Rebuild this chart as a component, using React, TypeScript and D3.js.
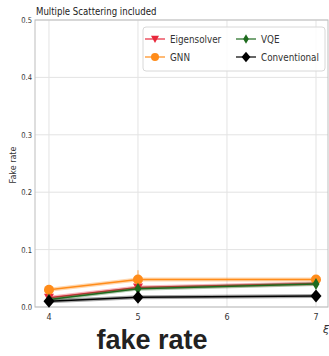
import React from "react";
import * as d3 from "d3";

const xs = [4, 5, 7];
const eigensolver = [0.016, 0.034, 0.041];
const gnn = [0.03, 0.048, 0.048];
const vqe = [0.013, 0.032, 0.04];
const conventional = [0.01, 0.017, 0.019];
const gnnErr = [0.004, 0.016, 0.004];
const xTicks = [4, 5, 6, 7];
const yTicks = [0, 0.1, 0.2, 0.3, 0.4, 0.5];

const series = [
  { name: "Eigensolver", values: eigensolver, color: "#e8283c", marker: "tri" },
  { name: "GNN", values: gnn, color: "#ff8c1a", marker: "circle" },
  { name: "VQE", values: vqe, color: "#1e6b1e", marker: "diamond" },
  { name: "Conventional", values: conventional, color: "#000000", marker: "diamondBig" },
];

const L = 35, R = 328, T = 20, B = 307;
const x = d3.scaleLinear().domain([3.843, 7.135]).range([L, R]);
const y = d3.scaleLinear().domain([0, 0.5]).range([B, T]);

function Marker({ kind, cx, cy, color, s = 1 }: { kind: string; cx: number; cy: number; color: string; s?: number }) {
  if (kind === "circle") return <circle cx={cx} cy={cy} r={5 * s} fill={color} />;
  if (kind === "tri")
    return <path d={`M${cx - 5 * s},${cy - 4 * s} L${cx + 5 * s},${cy - 4 * s} L${cx},${cy + 5 * s} Z`} fill={color} />;
  if (kind === "diamond")
    return <path d={`M${cx},${cy - 6 * s} L${cx + 3.5 * s},${cy} L${cx},${cy + 6 * s} L${cx - 3.5 * s},${cy} Z`} fill={color} />;
  return <path d={`M${cx},${cy - 6.5 * s} L${cx + 5.5 * s},${cy} L${cx},${cy + 6.5 * s} L${cx - 5.5 * s},${cy} Z`} fill={color} />;
}

export default function App() {
  const line = d3
    .line<number>()
    .x((_, i) => x(xs[i]))
    .y((d) => y(d));
  const font = "DejaVu Sans, sans-serif";
  return (
    <svg width={329} height={356} style={{ position: "absolute", left: 0, top: 0, background: "#fff" }}>
      <rect x={0} y={0} width={329} height={356} fill="#fff" />
      {xTicks.map((t) => (
        <line key={"gx" + t} x1={x(t)} x2={x(t)} y1={T} y2={B} stroke="#e3e3e3" strokeWidth={1} />
      ))}
      {yTicks.map((t) => (
        <line key={"gy" + t} x1={L} x2={R} y1={y(t)} y2={y(t)} stroke="#e3e3e3" strokeWidth={1} />
      ))}
      <rect x={L} y={T} width={R - L} height={B - T} fill="none" stroke="#bdbdbd" strokeWidth={1} />
      {yTicks.map((t) => (
        <text key={"ty" + t} x={L - 3} y={y(t) + 3} fontSize={8} fontFamily={font} textAnchor="end" fill="#333"
          transform={`translate(${L - 3},0) scale(0.85,1) translate(${-(L - 3)},0)`}>
          {t.toFixed(1)}
        </text>
      ))}
      {xTicks.map((t) => (
        <text key={"tx" + t} x={x(t)} y={B + 13} fontSize={8} fontFamily={font} textAnchor="middle" fill="#333">
          {t}
        </text>
      ))}
      <text x={326} y={333} fontSize={11} fontStyle="italic" fontFamily={font} textAnchor="middle" fill="#333">ξ</text>
      <text transform={`translate(16,165) rotate(-90)`} fontSize={8} fontFamily={font} textAnchor="middle" fill="#333">
        Fake rate
      </text>
      <text x={36} y={15} fontSize={10} fontFamily={font} fill="#222"
        transform="translate(36,0) scale(0.86,1) translate(-36,0)">
        Multiple Scattering included
      </text>
      {gnnErr.map((e, i) => (
        <line key={"e" + i} x1={x(xs[i])} x2={x(xs[i])} y1={y(gnn[i] - e)} y2={y(gnn[i] + e)}
          stroke="#ff8c1a" strokeOpacity={0.5} strokeWidth={1.5} />
      ))}
      {series.map((s) => (
        <g key={s.name}>
          <path d={line(s.values) || ""} fill="none" stroke={s.color} strokeOpacity={0.35} strokeWidth={4} />
          <path d={line(s.values) || ""} fill="none" stroke={s.color} strokeWidth={1.5} />
          {s.values.map((v, i) => (
            <Marker key={i} kind={s.marker} cx={x(xs[i])} cy={y(v)} color={s.color} />
          ))}
        </g>
      ))}
      <rect x={143} y={27} width={182} height={44} rx={3} fill="#fff" fillOpacity={0.85} stroke="#d8d8d8" />
      {series.map((s, i) => {
        const row = i % 2;
        const cx = i < 2 ? 155 : 246;
        const cy = 39 + row * 18;
        return (
          <g key={"lg" + s.name}>
            <line x1={cx - 10} x2={cx + 10} y1={cy} y2={cy} stroke={s.color} strokeWidth={1.5} strokeOpacity={0.8} />
            <Marker kind={s.marker} cx={cx} cy={cy} color={s.color} s={0.8} />
            <text x={cx + 15} y={cy + 4} fontSize={10} fontFamily={font} fill="#333"
              transform={`translate(${cx + 15},0) scale(0.88,1) translate(${-(cx + 15)},0)`}>
              {s.name}
            </text>
          </g>
        );
      })}
      <text x={152} y={349} fontSize={27} fontWeight="bold" fontFamily="Liberation Sans, Arial, sans-serif"
        textAnchor="middle" fill="#222">
        fake rate
      </text>
    </svg>
  );
}
